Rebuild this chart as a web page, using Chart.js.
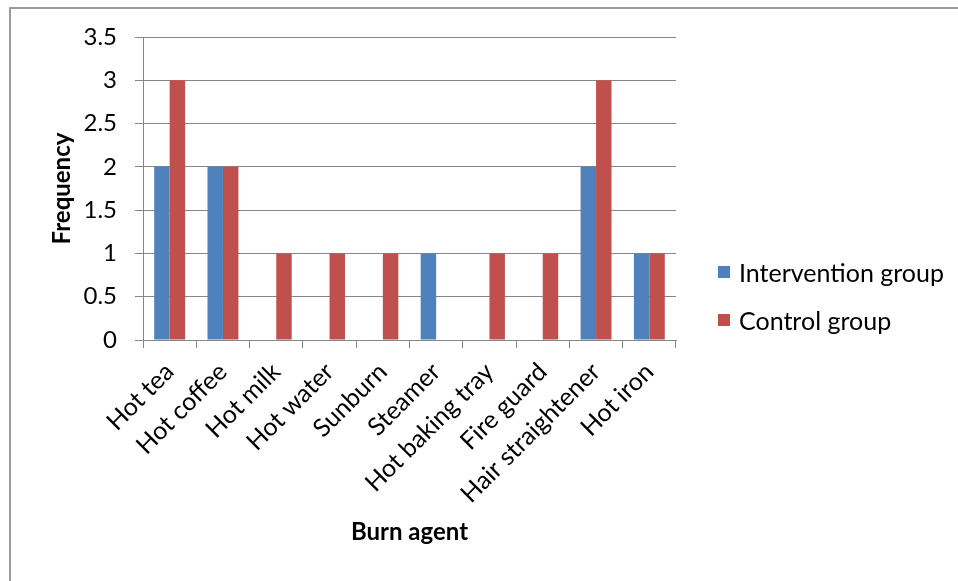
<!DOCTYPE html>
<html>
<head>
<meta charset="utf-8">
<script src="https://cdn.jsdelivr.net/npm/chart.js@4/dist/chart.umd.min.js"></script>
<style>
  html, body { margin: 0; padding: 0; background: #fff; }
  #wrap { position: relative; width: 958px; height: 581px; overflow: hidden; }
  #frame { position: absolute; left: 9px; top: 7px; width: 1000px; height: 700px;
           border-left: 2px solid #9a9a9a; border-top: 2px solid #9a9a9a; box-sizing: border-box; }
  canvas { position: absolute; left: 0; top: 0; }
  .leg { position: absolute; font-family: Lato, "Open Sans", sans-serif; font-size: 25px; color: #000;
         line-height: 28px; white-space: nowrap; }
  .sw { position: absolute; width: 12px; height: 12px; }
</style>
</head>
<body>
<div id="wrap">
  <div id="frame"></div>
  <canvas id="c" width="958" height="581"></canvas>
  <div id="legend"></div>
</div>
<script>
// Burn agents and how often each was reported per group
const categories = ['Hot tea', 'Hot coffee', 'Hot milk', 'Hot water', 'Sunburn', 'Steamer',
                    'Hot baking tray', 'Fire guard', 'Hair straightener', 'Hot iron'];
const interventionGroup = [2, 2, 0, 0, 0, 1, 0, 0, 2, 1];
const controlGroup      = [3, 2, 1, 1, 1, 0, 1, 1, 3, 1];
const seriesNames = ['Intervention group', 'Control group'];
const seriesColors = ['#4F81BD', '#C0504D'];
const yTicks = [0, 0.5, 1, 1.5, 2, 2.5, 3, 3.5];

const FONT = 'Lato, "Open Sans", sans-serif';
const AXIS_GREY = '#868686';

new Chart(document.getElementById('c'), {
  type: 'bar',
  data: {
    labels: categories,
    datasets: [
      { label: seriesNames[0], data: interventionGroup, backgroundColor: seriesColors[0],
        categoryPercentage: 0.58, barPercentage: 1.0 },
      { label: seriesNames[1], data: controlGroup, backgroundColor: seriesColors[1],
        categoryPercentage: 0.58, barPercentage: 1.0 }
    ]
  },
  options: {
    responsive: false,
    animation: false,
    layout: { padding: { left: 0, right: 282, top: 37, bottom: 0 } },
    plugins: { legend: { display: false }, tooltip: { enabled: false } },
    scales: {
      x: {
        offset: true,
        grid: { offset: true, drawOnChartArea: false, color: AXIS_GREY, tickLength: 8, lineWidth: 1 },
        border: { color: AXIS_GREY, width: 1 },
        ticks: { minRotation: 45, maxRotation: 45, color: '#000', padding: 9,
                 font: { family: FONT, size: 25 }, autoSkip: false },
        title: { display: true, text: 'Burn agent', color: '#000',
                 font: { family: FONT, size: 24, weight: 'bold' }, padding: { top: 0, bottom: 34 } },
        afterFit(scale) { scale.height = 241; }
      },
      y: {
        min: 0, max: 3.5,
        afterBuildTicks(scale) { scale.ticks = yTicks.map(v => ({ value: v })); },
        grid: { color: AXIS_GREY, tickLength: 8, lineWidth: 1 },
        border: { color: AXIS_GREY, width: 1 },
        ticks: { color: '#000', padding: 18, font: { family: FONT, size: 24 },
                 callback: (v) => String(v) },
        title: { display: true, text: 'Frequency', color: '#000',
                 font: { family: FONT, size: 24, weight: 'bold' }, padding: { top: 48, bottom: 0 } },
        afterFit(scale) { scale.width = 143; }
      }
    }
  }
});

// Legend to the right of the plot
const legend = document.getElementById('legend');
const legendRows = [272, 320];
seriesNames.forEach((name, i) => {
  const sw = document.createElement('div');
  sw.className = 'sw';
  sw.style.left = '718px';
  sw.style.top = (legendRows[i] - 6) + 'px';
  sw.style.background = seriesColors[i];
  legend.appendChild(sw);
  const t = document.createElement('div');
  t.className = 'leg';
  t.style.left = '739px';
  t.style.top = (legendRows[i] - 14) + 'px';
  t.textContent = name;
  legend.appendChild(t);
});
</script>
</body>
</html>
